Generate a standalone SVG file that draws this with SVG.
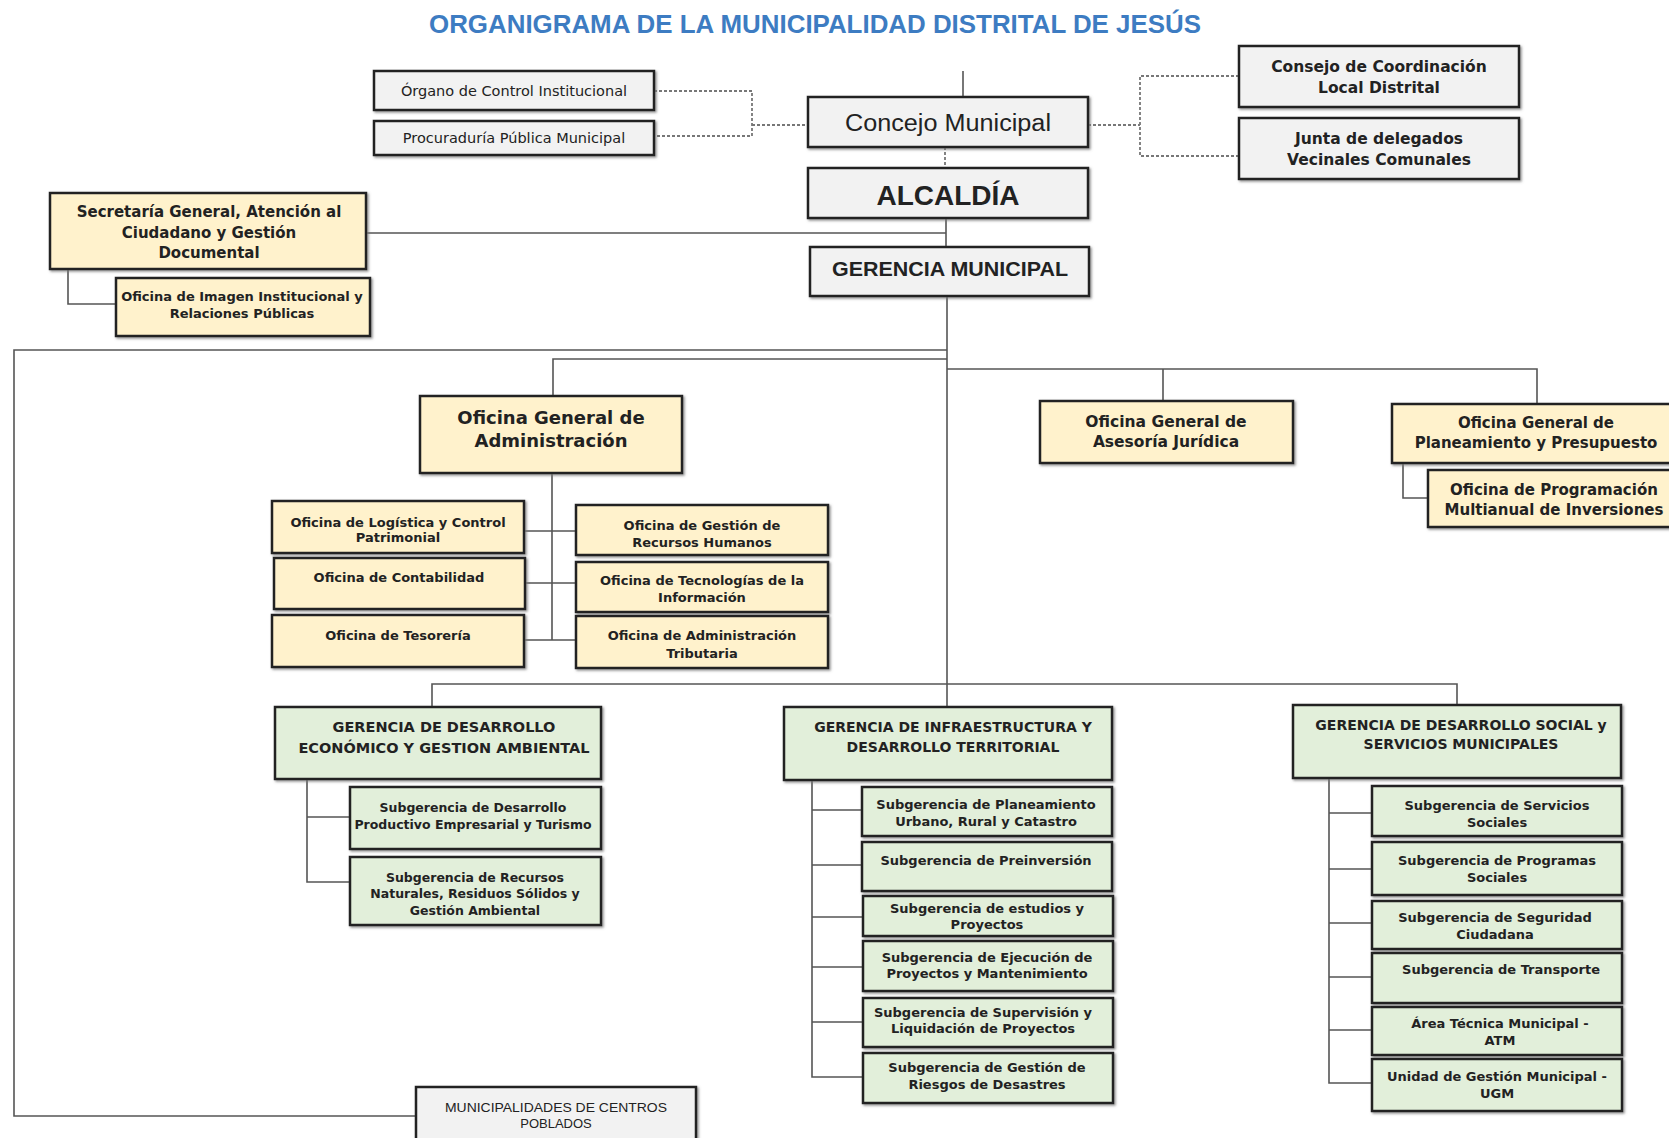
<svg xmlns="http://www.w3.org/2000/svg" width="1669" height="1138" viewBox="0 0 1669 1138">
<defs>
<filter id="sh" x="-5%" y="-5%" width="110%" height="120%"><feDropShadow dx="1.5" dy="1.5" stdDeviation="0.8" flood-color="#777" flood-opacity="0.8"/></filter>
<style>
.box{stroke:#222;stroke-width:2.5;filter:url(#sh)}
.g{fill:#f2f2f2}
.c{fill:#fff2cc}
.gr{fill:#e2efda}
.ln{stroke:#555;stroke-width:1.6;fill:none}
.dt{stroke:#777;stroke-width:1.8;stroke-dasharray:3 2;fill:none}
text{font-family:"Liberation Sans",Arial,sans-serif;text-anchor:middle;fill:#222}
.b{font-weight:bold}
.d{font-family:"DejaVu Sans",sans-serif}
.d text{font-family:"DejaVu Sans",sans-serif;font-weight:bold}
</style>
</defs>
<rect width="1669" height="1138" fill="#fff"/>
<text x="815" y="33" font-size="26" class="b" style="fill:#3d7cc2" textLength="772" lengthAdjust="spacingAndGlyphs">ORGANIGRAMA DE LA MUNICIPALIDAD DISTRITAL DE JESÚS</text>

<g id="connectors">
<path class="ln" d="M963 71 V97"/>
<path class="dt" d="M654 91 H752 V136 H654 M752 125 H808"/>
<path class="dt" d="M1088 125 H1140 M1239 76 H1140 V156 H1239"/>
<path class="dt" d="M945 147 V168"/>
<path class="ln" d="M946 218 V247"/>
<path class="ln" d="M366 233 H946"/>
<path class="ln" d="M68 269 V304 H116"/>
<path class="ln" d="M947 296 V707"/>
<path class="ln" d="M947 350 H14 V1116 H416"/>
<path class="ln" d="M947 359 H553 V396"/>
<path class="ln" d="M947 369 H1537 V404 M1163 369 V401"/>
<path class="ln" d="M1403 463 V498 H1428"/>
<path class="ln" d="M552 473 V640 M524 531 H576 M525 583 H576 M524 640 H576"/>
<path class="ln" d="M432 707 V684 H1457 V705"/>
<path class="ln" d="M307 779 V882 H350 M307 817 H350"/>
<path class="ln" d="M812 780 V1077 H862 M812 810 H862 M812 865 H862 M812 917 H862 M812 967 H862 M812 1022 H862"/>
<path class="ln" d="M1329 778 V1083 H1372 M1329 813 H1372 M1329 869 H1372 M1329 923 H1372 M1329 977 H1372 M1329 1030 H1372"/>
</g>

<g id="organo"><rect class="box g" x="374" y="71" width="280" height="39"/><text class="d" x="514" y="96" font-size="14.5">Órgano de Control Institucional</text></g>
<g id="procuraduria"><rect class="box g" x="374" y="121" width="280" height="34"/><text class="d" x="514" y="143" font-size="14.5">Procuraduría Pública Municipal</text></g>
<g id="concejo"><rect class="box g" x="808" y="97" width="280" height="50"/><text x="948" y="131" font-size="23" textLength="206" lengthAdjust="spacingAndGlyphs">Concejo Municipal</text></g>
<g id="consejo" class="d"><rect class="box g" x="1239" y="46" width="280" height="61"/><text x="1379" y="72" font-size="15.5">Consejo de Coordinación</text><text x="1379" y="93" font-size="15.5">Local Distrital</text></g>
<g id="junta" class="d"><rect class="box g" x="1239" y="118" width="280" height="61"/><text x="1379" y="144" font-size="15.5">Junta de delegados</text><text x="1379" y="165" font-size="15.5">Vecinales Comunales</text></g>
<g id="alcaldia"><rect class="box g" x="808" y="168" width="280" height="50"/><text x="948" y="205" font-size="28" class="b">ALCALDÍA</text></g>
<g id="gerencia"><rect class="box g" x="810" y="247" width="279" height="49"/><text x="950" y="276" font-size="20" class="b" textLength="236" lengthAdjust="spacingAndGlyphs">GERENCIA MUNICIPAL</text></g>

<g id="secretaria" class="d"><rect class="box c" x="50" y="193" width="316" height="76"/><text x="209" y="217" font-size="15">Secretaría General, Atención al</text><text x="209" y="238" font-size="15">Ciudadano y Gestión</text><text x="209" y="258" font-size="15">Documental</text></g>
<g id="imagen" class="d"><rect class="box c" x="116" y="278" width="254" height="58"/><text x="242" y="301" font-size="13">Oficina de Imagen Institucional y</text><text x="242" y="318" font-size="13">Relaciones Públicas</text></g>
<g id="oga" class="d"><rect class="box c" x="420" y="396" width="262" height="77"/><text x="551" y="424" font-size="18">Oficina General de</text><text x="551" y="447" font-size="18">Administración</text></g>
<g id="asesoria" class="d"><rect class="box c" x="1040" y="401" width="253" height="62"/><text x="1166" y="427" font-size="15.5">Oficina General de</text><text x="1166" y="447" font-size="15.5">Asesoría Jurídica</text></g>
<g id="planeamiento" class="d"><rect class="box c" x="1392" y="404" width="285" height="59"/><text x="1536" y="428" font-size="15">Oficina General de</text><text x="1536" y="448" font-size="15">Planeamiento y Presupuesto</text></g>
<g id="programacion" class="d"><rect class="box c" x="1428" y="470" width="250" height="57"/><text x="1554" y="495" font-size="15">Oficina de Programación</text><text x="1554" y="515" font-size="15">Multianual de Inversiones</text></g>

<g id="logistica" class="d"><rect class="box c" x="272" y="501" width="252" height="52"/><text x="398" y="527" font-size="13">Oficina de Logística y Control</text><text x="398" y="542" font-size="13">Patrimonial</text></g>
<g id="contabilidad" class="d"><rect class="box c" x="274" y="558" width="251" height="51"/><text x="399" y="582" font-size="13">Oficina de Contabilidad</text></g>
<g id="tesoreria" class="d"><rect class="box c" x="272" y="615" width="252" height="52"/><text x="398" y="640" font-size="13">Oficina de Tesorería</text></g>
<g id="rrhh" class="d"><rect class="box c" x="576" y="505" width="252" height="50"/><text x="702" y="530" font-size="13">Oficina de Gestión de</text><text x="702" y="547" font-size="13">Recursos Humanos</text></g>
<g id="tecnologias" class="d"><rect class="box c" x="576" y="562" width="252" height="50"/><text x="702" y="585" font-size="13">Oficina de Tecnologías de la</text><text x="702" y="602" font-size="13">Información</text></g>
<g id="tributaria" class="d"><rect class="box c" x="576" y="616" width="252" height="52"/><text x="702" y="640" font-size="13">Oficina de Administración</text><text x="702" y="658" font-size="13">Tributaria</text></g>

<g id="gde" class="d"><rect class="box gr" x="275" y="707" width="326" height="72"/><text x="444" y="732" font-size="14.5">GERENCIA DE DESARROLLO</text><text x="444" y="753" font-size="14.5">ECONÓMICO Y GESTION AMBIENTAL</text></g>
<g id="gde1" class="d"><rect class="box gr" x="350" y="787" width="251" height="62"/><text x="473" y="812" font-size="12.5">Subgerencia de Desarrollo</text><text x="473" y="829" font-size="12.5">Productivo Empresarial y Turismo</text></g>
<g id="gde2" class="d"><rect class="box gr" x="350" y="857" width="251" height="68"/><text x="475" y="882" font-size="12.5">Subgerencia de Recursos</text><text x="475" y="898" font-size="12.5">Naturales, Residuos Sólidos y</text><text x="475" y="915" font-size="12.5">Gestión Ambiental</text></g>

<g id="gidt" class="d"><rect class="box gr" x="784" y="707" width="328" height="73"/><text x="953" y="732" font-size="14">GERENCIA DE INFRAESTRUCTURA Y</text><text x="953" y="752" font-size="14">DESARROLLO TERRITORIAL</text></g>
<g id="gidt1" class="d"><rect class="box gr" x="862" y="787" width="250" height="49"/><text x="986" y="809" font-size="13">Subgerencia de Planeamiento</text><text x="986" y="826" font-size="13">Urbano, Rural y Catastro</text></g>
<g id="gidt2" class="d"><rect class="box gr" x="862" y="842" width="250" height="49"/><text x="986" y="865" font-size="13">Subgerencia de Preinversión</text></g>
<g id="gidt3" class="d"><rect class="box gr" x="863" y="896" width="250" height="40"/><text x="987" y="913" font-size="13">Subgerencia de estudios y</text><text x="987" y="929" font-size="13">Proyectos</text></g>
<g id="gidt4" class="d"><rect class="box gr" x="863" y="941" width="250" height="50"/><text x="987" y="962" font-size="13">Subgerencia de Ejecución de</text><text x="987" y="978" font-size="13">Proyectos y Mantenimiento</text></g>
<g id="gidt5" class="d"><rect class="box gr" x="863" y="998" width="250" height="49"/><text x="983" y="1017" font-size="13">Subgerencia de Supervisión y</text><text x="983" y="1033" font-size="13">Liquidación de Proyectos</text></g>
<g id="gidt6" class="d"><rect class="box gr" x="863" y="1053" width="250" height="50"/><text x="987" y="1072" font-size="13">Subgerencia de Gestión de</text><text x="987" y="1089" font-size="13">Riesgos de Desastres</text></g>

<g id="gds" class="d"><rect class="box gr" x="1293" y="705" width="328" height="73"/><text x="1461" y="730" font-size="14">GERENCIA DE DESARROLLO SOCIAL y</text><text x="1461" y="749" font-size="14">SERVICIOS MUNICIPALES</text></g>
<g id="gds1" class="d"><rect class="box gr" x="1372" y="786" width="250" height="50"/><text x="1497" y="810" font-size="13">Subgerencia de Servicios</text><text x="1497" y="827" font-size="13">Sociales</text></g>
<g id="gds2" class="d"><rect class="box gr" x="1372" y="842" width="250" height="53"/><text x="1497" y="865" font-size="13">Subgerencia de Programas</text><text x="1497" y="882" font-size="13">Sociales</text></g>
<g id="gds3" class="d"><rect class="box gr" x="1372" y="901" width="250" height="48"/><text x="1495" y="922" font-size="13">Subgerencia de Seguridad</text><text x="1495" y="939" font-size="13">Ciudadana</text></g>
<g id="gds4" class="d"><rect class="box gr" x="1372" y="953" width="250" height="50"/><text x="1501" y="974" font-size="13">Subgerencia de Transporte</text></g>
<g id="gds5" class="d"><rect class="box gr" x="1372" y="1007" width="250" height="48"/><text x="1500" y="1028" font-size="13">Área Técnica Municipal -</text><text x="1500" y="1045" font-size="13">ATM</text></g>
<g id="gds6" class="d"><rect class="box gr" x="1372" y="1059" width="250" height="52"/><text x="1497" y="1081" font-size="13">Unidad de Gestión Municipal -</text><text x="1497" y="1098" font-size="13">UGM</text></g>

<g id="centros"><rect class="box g" x="416" y="1087" width="280" height="60"/><text x="556" y="1112" font-size="13" textLength="222" lengthAdjust="spacingAndGlyphs">MUNICIPALIDADES DE CENTROS</text><text x="556" y="1128" font-size="13">POBLADOS</text></g>
</svg>
